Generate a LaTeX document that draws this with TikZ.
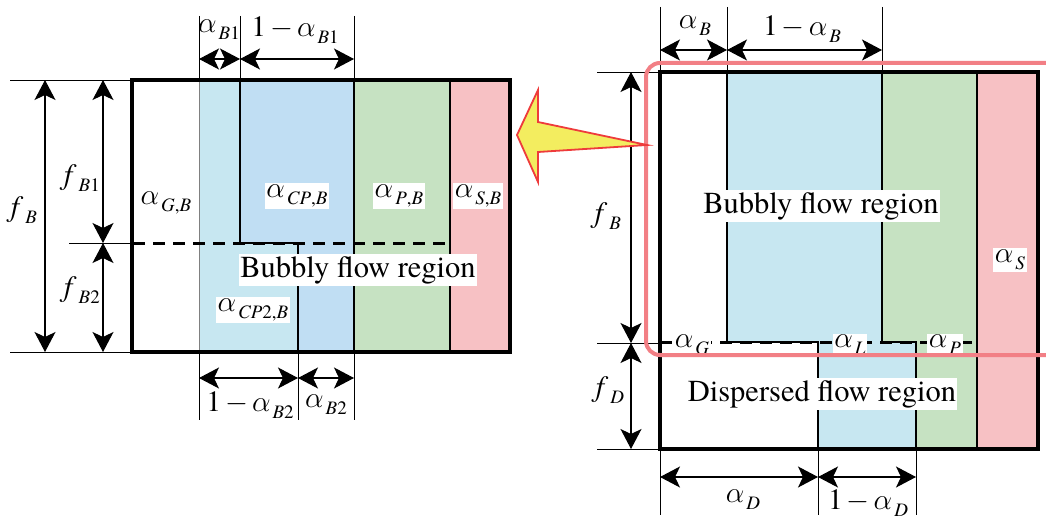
\RequirePackage{fix-cm}
\documentclass[tikz,border=0pt]{standalone}
\usepackage{fontspec}
\IfFontExistsTF{texgyretermes-regular.otf}{%
  \setmainfont{texgyretermes}[Extension=.otf, UprightFont=*-regular, ItalicFont=*-italic, BoldFont=*-bold, BoldItalicFont=*-bolditalic]}{%
  \setmainfont{Liberation Serif}}
\usetikzlibrary{arrows.meta}
\definecolor{lblue}{HTML}{C7E7F1}
\definecolor{dblue}{HTML}{C0DEF3}
\definecolor{lgreen}{HTML}{C6E2C2}
\definecolor{lpink}{HTML}{F7C1C4}
\definecolor{redbox}{HTML}{F27F85}
\definecolor{yel}{HTML}{F3ED5F}
\definecolor{arrred}{HTML}{EE3B3B}
\newcommand\lsub[1]{\hspace{2pt}\raisebox{-7pt}{\fontsize{19}{19}\selectfont #1}}
\newcommand\al[1]{$\alpha$\lsub{#1}}
\newcommand\ef[1]{\textit{f}\lsub{#1}}
\newcommand\om{1\hspace{4pt}$-$\hspace{4pt}}
\begin{document}
\begin{tikzpicture}[x=1pt,y=-1pt,
  dim/.style={line width=1.1pt, {Stealth[length=20pt,width=21pt,inset=5pt]}-{Stealth[length=20pt,width=21pt,inset=5pt]}},
  ext/.style={line width=1pt},
  frame/.style={line width=3.2pt},
  col/.style={line width=2.4pt},
  lab/.style={font=\fontsize{29.5}{29.5}\selectfont, inner sep=1.5pt},
  wlab/.style={lab, fill=white},
  region/.style={wlab, inner xsep=1pt, inner ysep=2.5pt, font=\fontsize{30.5}{30.5}\selectfont},
  dashline/.style={line width=3pt, dash pattern=on 12pt off 8pt},
]
\useasboundingbox (0,0) rectangle (1046,527);
\clip (0,0) rectangle (1046,527);

% ---------- left figure ----------
\fill[lblue] (199,80) rectangle (240,243);
\fill[lblue] (199,243) rectangle (298,352);
\fill[dblue] (240,80) rectangle (354,243);
\fill[dblue] (298,243) rectangle (354,352);
\fill[lgreen] (354,80) rectangle (450,352);
\fill[lpink] (450,80) rectangle (510,352);
\draw[line width=1pt, gray] (199,80) -- (199,352);
\draw[col] (240,80) -- (240,243) -- (298,243) -- (298,352);
\draw[col] (354,80) -- (354,352);
\draw[col] (450,80) -- (450,352);
\draw[dashline] (133,243) -- (448,243);
\draw[frame] (132,80) rectangle (510,352);

% extension lines left
\draw[ext] (199,16) -- (199,80) (240,16) -- (240,80) (354,16) -- (354,80);
\draw[ext] (10,80) -- (132,80) (69,243) -- (132,243) (10,352) -- (132,352);
\draw[ext] (199,352) -- (199,420) (298,352) -- (298,420) (354,352) -- (354,420);

\coordinate (lta) at (199,59); \coordinate (ltb) at (240,59); \coordinate (ltc) at (354,59);
\coordinate (lva) at (45,80); \coordinate (lvb) at (45,352);
\coordinate (lwa) at (103,80); \coordinate (lwb) at (103,243); \coordinate (lwc) at (103,352);
\coordinate (lba) at (199,378); \coordinate (lbb) at (298,378); \coordinate (lbc) at (354,378);
\draw[dim] (lta) -- (ltb);
\draw[dim] (ltb) -- (ltc);
\draw[dim] (lva) -- (lvb);
\draw[dim] (lwa) -- (lwb);
\draw[dim] (lwb) -- (lwc);
\draw[dim] (lba) -- (lbb);
\draw[dim] (lbb) -- (lbc);

\node[lab] (laB1) at (219,30) {\al{\textit{B}1}};
\node[lab] (lomB1) at (295,30) {\om\al{\textit{B}1}};
\node[lab] (lfB) at (24,210) {\ef{\textit{B}}};
\node[lab] (lfB1) at (82,178) {\ef{\textit{B}1}};
\node[lab] (lfB2) at (82,290) {\ef{\textit{B}2}};
\node[lab] (laGB) at (166,203) {\al{\textit{G},\textit{B}}};
\node[wlab] (laCPB) at (297,196) {\al{\textit{CP},\textit{B}}};
\node[wlab] (laPB) at (399,196) {\al{\textit{P},\textit{B}}};
\node[wlab] (laSB) at (478,196) {\al{\textit{S},\textit{B}}};
\node[region] (lbub) at (358,270) {Bubbly flow region};
\node[wlab] (laCP2B) at (253,310) {\al{\textit{CP}2,\textit{B}}};
\node[lab] (lomB2) at (250,405) {\om\al{\textit{B}2}};
\node[lab] (laB2) at (326,405) {\al{\textit{B}2}};

% ---------- right figure ----------
\fill[lblue] (727,72) rectangle (882,342);
\fill[lblue] (818,342) rectangle (916,449);
\fill[lgreen] (882,72) rectangle (977,342);
\fill[lgreen] (916,342) rectangle (977,449);
\fill[lpink] (977,72) rectangle (1038,449);
\draw[col] (727,72) -- (727,342) -- (818,342) -- (818,449);
\draw[col] (882,72) -- (882,342) -- (916,342) -- (916,449);
\draw[col] (977,72) -- (977,449);
\draw[dashline] (660,342) -- (977,342);
\draw[frame] (660,72) rectangle (1038,449);

\draw[ext] (660,7) -- (660,72) (727,7) -- (727,72) (882,7) -- (882,72);
\draw[ext] (597,72) -- (660,72) (597,343) -- (660,343) (597,449) -- (660,449);
\draw[ext] (660,449) -- (660,515) (818,449) -- (818,515) (916,449) -- (916,515);

\coordinate (rta) at (660,50); \coordinate (rtb) at (727,50); \coordinate (rtc) at (882,50);
\coordinate (rva) at (631,72); \coordinate (rvb) at (631,343); \coordinate (rvc) at (631,449);
\coordinate (rba) at (660,477); \coordinate (rbb) at (818,477); \coordinate (rbc) at (916,477);
\draw[dim] (rta) -- (rtb);
\draw[dim] (rtb) -- (rtc);
\draw[dim] (rva) -- (rvb);
\draw[dim] (rvb) -- (rvc);
\draw[dim] (rba) -- (rbb);
\draw[dim] (rbb) -- (rbc);

\node[lab] (raB) at (695,26) {\al{\textit{B}}};
\node[lab] (romB) at (802,29) {\om\al{\textit{B}}};
\node[lab] (rfB) at (608,216) {\ef{\textit{B}}};
\node[lab] (rfD) at (610,390) {\ef{\textit{D}}};
\node[region] (rbub) at (821,206) {Bubbly flow region};
\node[wlab] (raS) at (1010,260) {\al{\textit{S}}};
\node[region] (rdis) at (822,394) {Dispersed flow region};
\node[lab] (raD) at (743,500) {\al{\textit{D}}};
\node[lab] (romD) at (868,503) {\om\al{\textit{D}}};
\begin{scope}
\clip (600,300) rectangle (1000,354);
\node[wlab] (raG) at (692,345) {\al{\textit{G}}};
\node[wlab] (raL) at (850,345) {\al{\textit{L}}};
\node[wlab] (raP) at (945,345) {\al{\textit{P}}};
\end{scope}

% highlight box and arrow
\draw[redbox, line width=4pt, rounded corners=14pt] (646,63) rectangle (1060,355);
\draw[arrred, line width=1.8pt, fill=yel, line join=miter]
  (517,135) -- (538,90) -- (538,122) -- (647,145) -- (538,152) -- (538,182) -- cycle;
\end{tikzpicture}
\end{document}
